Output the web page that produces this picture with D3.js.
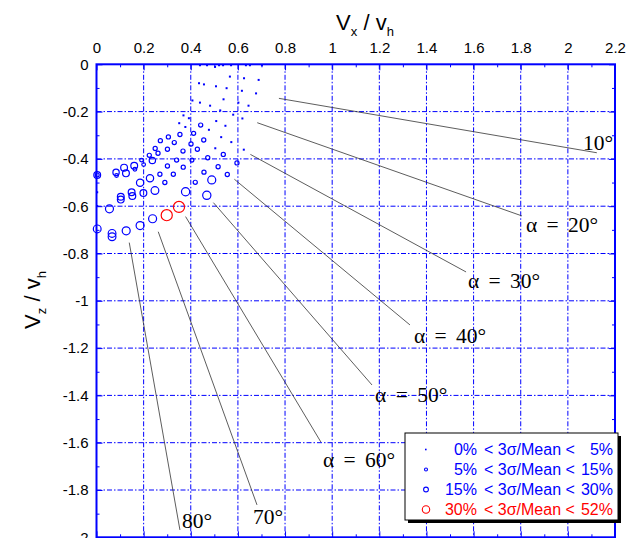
<!DOCTYPE html>
<html><head><meta charset="utf-8">
<script src="https://cdn.jsdelivr.net/npm/d3@7"></script>
<style>body{margin:0;background:#fff} svg{display:block}</style>
</head><body>
<svg id="c" width="639" height="538"></svg>
<script>
// ---------- data ----------
const xTicks = [0,0.2,0.4,0.6,0.8,1,1.2,1.4,1.6,1.8,2,2.2];
const xTickLabels = ["0","0.2","0.4","0.6","0.8","1","1.2","1.4","1.6","1.8","2","2.2"];
const zTicks = [0,-0.2,-0.4,-0.6,-0.8,-1,-1.2,-1.4,-1.6,-1.8,-2];
const zTickLabels = ["0","-0.2","-0.4","-0.6","-0.8","-1","-1.2","-1.4","-1.6","-1.8","-2"];

// measured points: Vx/vh, Vz/vh, 3σ/Mean (%)
const pointX = [
 0.439,0.469,0.503,0.520,0.537,0.571,0.634,0.651,0.702,
 0.566,0.626,0.688,0.435,0.456,0.507,0.552,0.617,0.677,
 0.407,0.439,0.482,0.539,0.602,0.645,0.525,0.580,0.619,
 0.369,0.392,0.351,0.377,0.508,0.547,0.477,0.529,0.572,0.504,0.625,
 0.003,0.003,
 0.442,0.412,0.455,0.401,0.428,0.538,0.472,0.596,0.516,0.555,0.456,0.419,
 0.354,0.305,0.271,0.330,0.249,0.301,0.261,0.224,0.367,0.340,0.301,0.368,
 0.269,0.326,0.290,0.405,0.191,0.200,0.163,0.085,0.003,
 0.237,0.160,0.117,0.125,0.083,0.003,0.227,0.185,0.489,
 0.103,0.103,0.149,0.152,0.199,0.248,0.378,0.468,
 0.055,0.003,0.066,0.066,0.126,0.185,0.238,
 0.298,0.350
];
const pointZ = [
 -0.004,-0.004,-0.011,-0.004,-0.004,-0.004,-0.004,-0.004,-0.004,
 -0.052,-0.059,-0.066,-0.080,-0.085,-0.093,-0.101,-0.112,-0.123,
 -0.153,-0.162,-0.175,-0.148,-0.162,-0.175,-0.195,-0.213,-0.229,
 -0.216,-0.228,-0.249,-0.265,-0.240,-0.260,-0.277,-0.308,-0.329,-0.355,-0.361,
 -0.541,-0.599,
 -0.257,-0.292,-0.320,-0.337,-0.359,-0.381,-0.395,-0.417,-0.433,-0.466,-0.456,-0.499,
 -0.297,-0.307,-0.323,-0.331,-0.356,-0.359,-0.376,-0.385,-0.367,-0.405,-0.430,-0.435,
 -0.465,-0.465,-0.500,-0.405,-0.405,-0.424,-0.444,-0.470,-0.468,
 -0.407,-0.429,-0.437,-0.461,-0.457,-0.468,-0.482,-0.501,-0.489,
 -0.560,-0.572,-0.541,-0.557,-0.544,-0.534,-0.539,-0.554,
 -0.611,-0.696,-0.715,-0.729,-0.704,-0.682,-0.653,
 -0.638,-0.603
];
const pointPct = [
 3,3,3,3,3,3,3,3,3,
 3,3,3,3,3,3,3,3,3,
 3,3,3,3,3,3,3,3,3,
 3,3,3,3,3,3,3,3,3,3,3,
 3,3,
 9,9,9,9,9,9,9,9,9,9,9,9,
 9,9,9,9,9,9,9,9,9,9,9,9,
 9,9,9,8,7,7,7,7,8,
 18,20,20,20,18,20,22,22,25,
 20,20,20,20,20,24,26,26,
 25,24,24,24,25,25,25,
 38,38
];

// angle annotations
const angleLabels = ["10°","α = 20°","α = 30°","α = 40°","α = 50°","α = 60°","70°","80°"];
const leadStartX = [0.774,0.682,0.653,0.585,0.496,0.378,0.262,0.139];
const leadStartZ = [-0.144,-0.247,-0.381,-0.486,-0.585,-0.644,-0.708,-0.754];
const leadEndX   = [2.123,1.805,1.568,1.330,1.169,0.952,0.681,0.354];
const leadEndZ   = [-0.374,-0.641,-0.878,-1.102,-1.356,-1.597,-1.863,-1.969];
const labelX     = [2.064,1.822,1.576,1.347,1.182,0.961,0.664,0.363];
const labelZ     = [-0.362,-0.711,-0.944,-1.180,-1.428,-1.703,-1.944,-1.960];

// legend
const legendLow  = ["0%","5%","15%","30%"];
const legendHigh = ["5%","15%","30%","52%"];

// ---------- drawing ----------
const svg = d3.select("#c");
const L = 96.5, R = 615, T = 64.3, B = 537.3;
const x = d3.scaleLinear().domain([0,2.2]).range([L,R]);
const z = d3.scaleLinear().domain([0,-2]).range([T,B]);
const blue = "#0000ff", red = "#ff0000";
const sans = "'Liberation Sans', Arial, Helvetica, sans-serif";
const serif = "'Liberation Serif', 'Times New Roman', serif";

// grid
const dash = "5,2,1.5,2";
const gx = xTicks.filter(v => v > 0 && v < 2.2);
const gz = zTicks.filter(v => v < 0 && v > -2);
svg.append("g").selectAll("line").data(gx).join("line")
  .attr("x1", d => x(d)).attr("x2", d => x(d)).attr("y1", T).attr("y2", B)
  .attr("stroke", blue).attr("stroke-width", 1).attr("stroke-dasharray", dash);
svg.append("g").selectAll("line").data(gz).join("line")
  .attr("y1", d => z(d)).attr("y2", d => z(d)).attr("x1", L).attr("x2", R)
  .attr("stroke", blue).attr("stroke-width", 1).attr("stroke-dasharray", dash);

// ticks (inward) on all four sides
const minorX = d3.range(0.1, 2.2, 0.2);
const minorZ = d3.range(-0.1, -2, -0.2);
function styleAxis(g){
  g.select(".domain").remove();
  g.selectAll(".tick line").attr("stroke", blue).attr("stroke-width", 1);
  g.selectAll("text").attr("font-family", sans).attr("font-size", 15).attr("fill", "#000");
}
svg.append("g").attr("transform", `translate(0,${T})`)
  .call(d3.axisTop(x).tickValues(xTicks).tickFormat((d,i)=>xTickLabels[i]).tickSize(-6).tickPadding(11))
  .call(styleAxis);
svg.append("g").attr("transform", `translate(0,${T})`)
  .call(d3.axisTop(x).tickValues(minorX).tickFormat("").tickSize(-3)).call(styleAxis);
svg.append("g").attr("transform", `translate(0,${B})`)
  .call(d3.axisBottom(x).tickValues(xTicks).tickFormat("").tickSize(-6)).call(styleAxis);
svg.append("g").attr("transform", `translate(0,${B})`)
  .call(d3.axisBottom(x).tickValues(minorX).tickFormat("").tickSize(-3)).call(styleAxis);
svg.append("g").attr("transform", `translate(${L},0)`)
  .call(d3.axisLeft(z).tickValues(zTicks).tickFormat((d,i)=>zTickLabels[i]).tickSize(-6).tickPadding(8))
  .call(styleAxis);
svg.append("g").attr("transform", `translate(${L},0)`)
  .call(d3.axisLeft(z).tickValues(minorZ).tickFormat("").tickSize(-3)).call(styleAxis);
svg.append("g").attr("transform", `translate(${R},0)`)
  .call(d3.axisRight(z).tickValues(zTicks).tickFormat("").tickSize(-6)).call(styleAxis);
svg.append("g").attr("transform", `translate(${R},0)`)
  .call(d3.axisRight(z).tickValues(minorZ).tickFormat("").tickSize(-3)).call(styleAxis);

// frame
svg.append("rect").attr("x", L).attr("y", T).attr("width", R-L).attr("height", B-T)
  .attr("fill", "none").attr("stroke", blue).attr("stroke-width", 2);

// axis titles
const tx = svg.append("text").attr("x", 365).attr("y", 30).attr("text-anchor", "middle")
  .attr("font-family", sans).attr("font-size", 22).attr("fill", "#000");
tx.append("tspan").text("V");
tx.append("tspan").attr("font-size", 13).attr("dy", 6).text("x");
tx.append("tspan").attr("dy", -6).text(" / v");
tx.append("tspan").attr("font-size", 13).attr("dy", 6).text("h");

const ty = svg.append("text").attr("transform", "translate(40,300) rotate(-90)").attr("text-anchor", "middle")
  .attr("font-family", sans).attr("font-size", 22).attr("fill", "#000");
ty.append("tspan").text("V");
ty.append("tspan").attr("font-size", 13).attr("dy", 6).text("z");
ty.append("tspan").attr("dy", -6).text(" / v");
ty.append("tspan").attr("font-size", 13).attr("dy", 6).text("h");

// leader lines and labels
const idx = d3.range(angleLabels.length);
svg.append("g").selectAll("line").data(idx).join("line")
  .attr("x1", i => x(leadStartX[i])).attr("y1", i => z(leadStartZ[i]))
  .attr("x2", i => x(leadEndX[i])).attr("y2", i => z(leadEndZ[i]))
  .attr("stroke", "#333").attr("stroke-width", 0.8);
svg.append("g").selectAll("text").data(idx).join("text")
  .attr("x", i => x(labelX[i])).attr("y", i => z(labelZ[i]))
  .attr("font-family", serif).attr("font-size", 21.5).attr("word-spacing", 4).attr("fill", "#000")
  .text(i => angleLabels[i]);

// points
const pts = d3.range(pointX.length).map(i => ({x: pointX[i], z: pointZ[i], p: pointPct[i]}));
const rad = d3.scaleLinear().domain([0,52]).range([1,7.24]);
const col = p => p >= 30 ? red : blue;
const gp = svg.append("g");
gp.selectAll("rect").data(pts.filter(d => d.p < 5)).join("rect")
  .attr("x", d => x(d.x)-1).attr("y", d => z(d.z)-1).attr("width", 2).attr("height", 2)
  .attr("fill", blue);
gp.selectAll("circle").data(pts.filter(d => d.p >= 5)).join("circle")
  .attr("cx", d => x(d.x)).attr("cy", d => z(d.z)).attr("r", d => rad(d.p))
  .attr("fill", "none").attr("stroke", d => col(d.p)).attr("stroke-width", 1.2);

// legend
const lg = svg.append("g");
lg.append("rect").attr("x", 408).attr("y", 436).attr("width", 213).attr("height", 87).attr("fill", "#000");
lg.append("rect").attr("x", 405).attr("y", 433).attr("width", 213).attr("height", 87)
  .attr("fill", "#fff").attr("stroke", "#000").attr("stroke-width", 1);
const legR = [0, 1.5, 2.4, 3.7];
legendLow.forEach((lo, i) => {
  const yy = 449.5 + i*20;
  const c = i === 3 ? red : blue;
  if (i === 0) lg.append("rect").attr("x", 425).attr("y", yy-0.8).attr("width", 1.6).attr("height", 1.6).attr("fill", c);
  else lg.append("circle").attr("cx", 426).attr("cy", yy).attr("r", legR[i]).attr("fill", "none").attr("stroke", c).attr("stroke-width", 1.1);
  const t = (xx, anchor, s) => lg.append("text").attr("x", xx).attr("y", yy+5.5).attr("text-anchor", anchor)
    .attr("font-family", sans).attr("font-size", 16).attr("fill", c).text(s);
  t(477, "end", lo);
  t(484, "start", "< 3σ/Mean <");
  t(613, "end", legendHigh[i]);
});
</script>
</body></html>
